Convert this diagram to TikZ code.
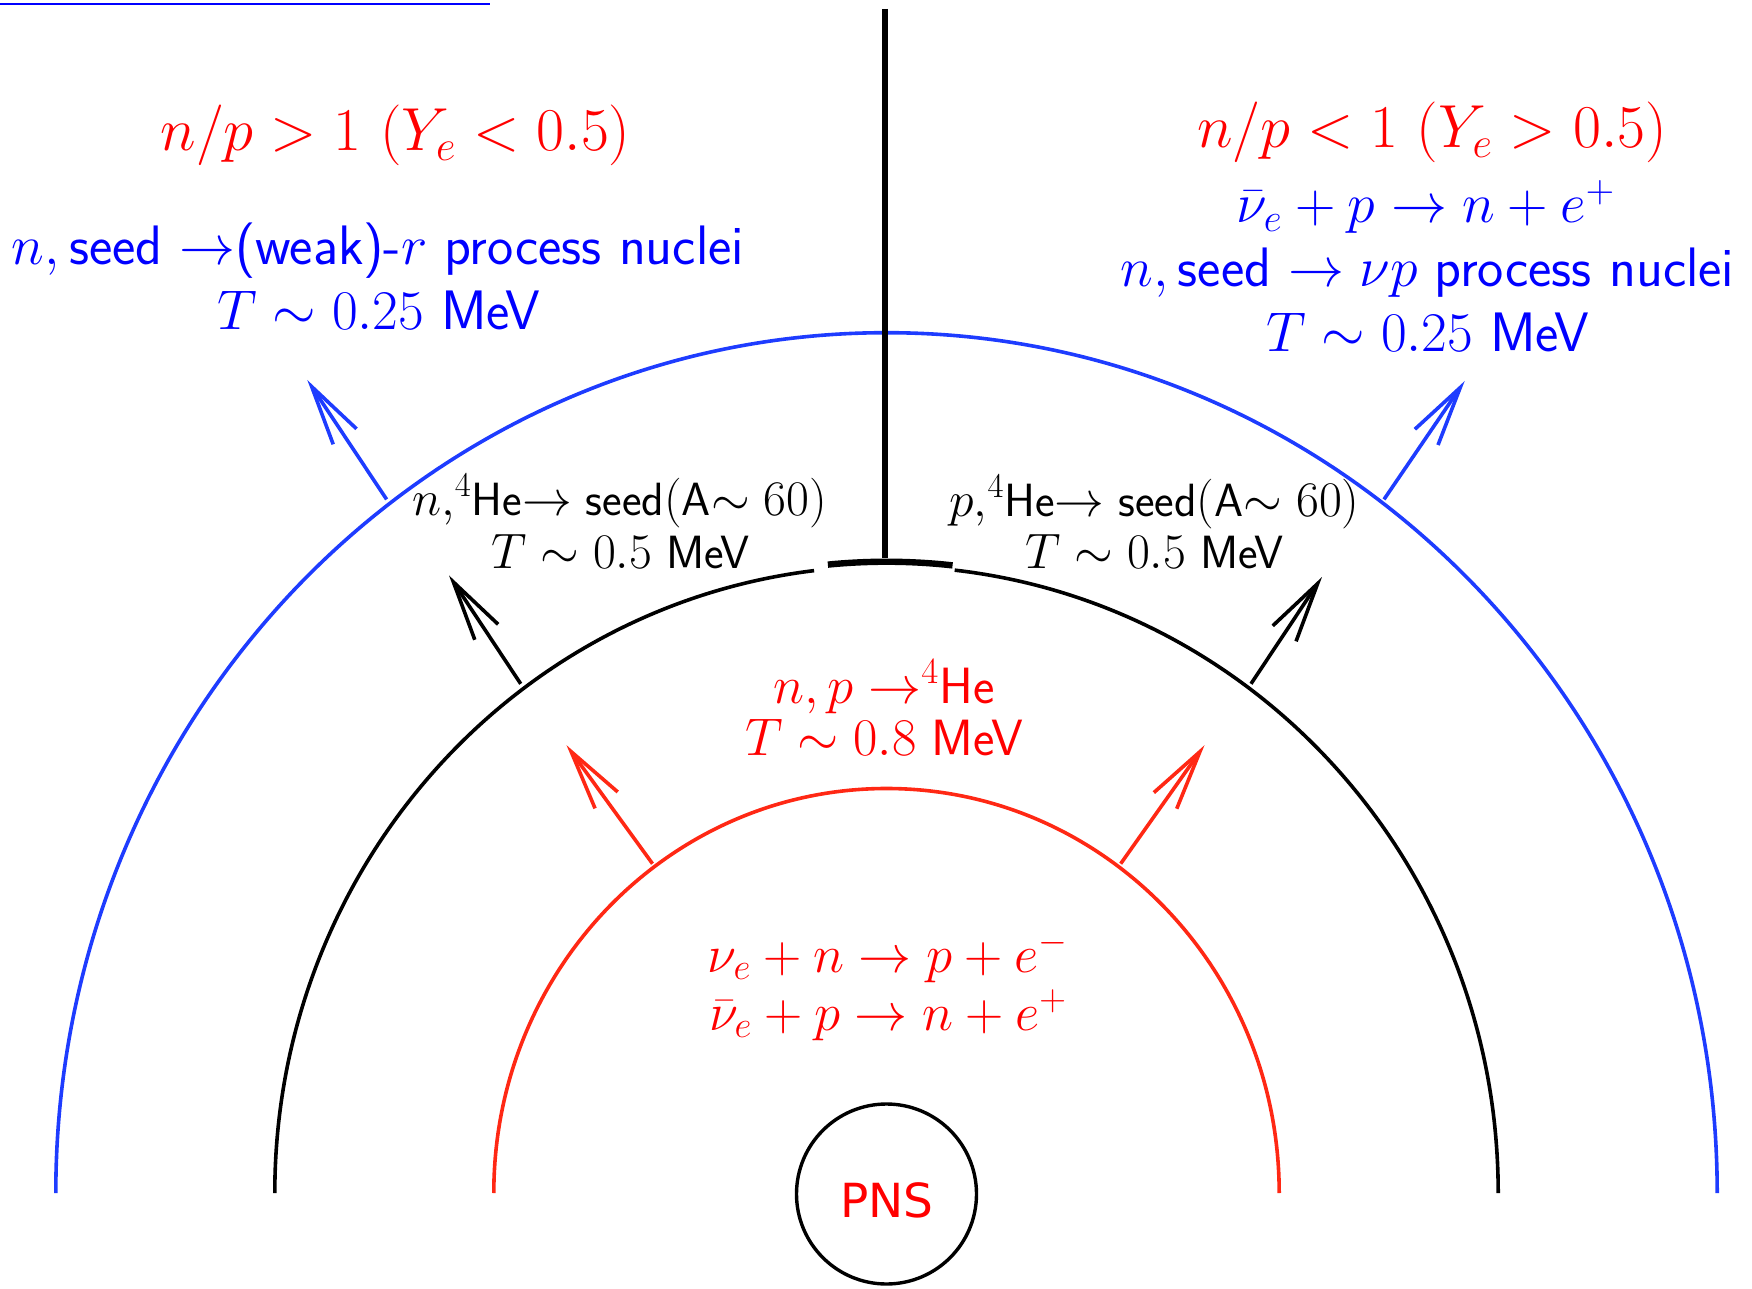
\RequirePackage{fix-cm}
\documentclass[tikz,border=0pt]{standalone}
\usepackage{fontspec}
\newfontfamily\pnsfont{DejaVu Sans}
\usetikzlibrary{arrows.meta}
\DeclareMathSizes{27.8}{28}{19.6}{14}
\DeclareMathSizes{30.4}{30.4}{21.3}{15.2}
\DeclareMathSizes{25.5}{26.5}{18.5}{13.2}
\DeclareMathSizes{23.3}{24.88}{17.4}{12.4}
\definecolor{tred}{RGB}{255,0,0}
\definecolor{tblue}{RGB}{0,0,255}
\definecolor{arcred}{RGB}{255,40,20}
\definecolor{arcblue}{RGB}{30,60,255}
\begin{document}
\begin{tikzpicture}[x=0.5pt,y=-0.5pt,
  arcline/.style={line width=1.8pt},
  outarrow/.style={line width=1.8pt,-{Straight Barb[length=30pt,width=14pt]}},
  hugetxt/.style={anchor=base,inner sep=0pt,font=\fontsize{30.4}{36}\selectfont},
  bigtxt/.style={anchor=base,inner sep=0pt,font=\fontsize{27.8}{33}\selectfont},
  midtxt/.style={anchor=base,inner sep=0pt,font=\fontsize{25.5}{30}\selectfont},
  smalltxt/.style={anchor=base,inner sep=0pt,font=\fontsize{23.3}{28}\selectfont},
  pnstxt/.style={anchor=base,inner sep=0pt,font=\fontsize{23.5}{28}\pnsfont},
]
\useasboundingbox (0,0) rectangle (1752,1289);
\coordinate (C) at (886.5,1193);

% top blue rule
\coordinate (bl1) at (0,4);
\coordinate (bl2) at (490,4);
\draw[tblue,line width=1.2pt] (bl1) -- (bl2);

% arcs
\draw[arcline,arcred] (C) ++(180:392.7 and 404.5) arc[start angle=180,end angle=360,x radius=392.7,y radius=404.5];
\draw[arcline] (C) ++(180:611.7 and 626.8) arc[start angle=180,end angle=263.2,x radius=611.7,y radius=626.8];
\draw[line width=3.2pt] (C) ++(0,-4.5) ++(264.5:611.7 and 626.8) arc[start angle=264.5,end angle=276.2,x radius=611.7,y radius=626.8];
\draw[arcline] (C) ++(276.4:611.7 and 626.8) arc[start angle=276.4,end angle=360,x radius=611.7,y radius=626.8];
\draw[arcline,arcblue] (C) ++(180:830.7 and 860.3) arc[start angle=180,end angle=360,x radius=830.7,y radius=860.3];

% vertical line
\coordinate (vtop) at (885,9);
\coordinate (vbot) at (885,558);
\draw[line width=3.2pt] (vtop) -- (vbot);

% PNS
\node[draw,circle,line width=1.7pt,minimum size=90pt,inner sep=0pt] (pns) at (886.5,1194) {};
\node[pnstxt,tred] (pnslabel) at (887,1217) {PNS};

% arrows
\coordinate (rls) at (652.5,863.7); \coordinate (rle) at (566.5,745.2);
\coordinate (rrs) at (1120.7,863.7); \coordinate (rre) at (1204.5,745.2);
\coordinate (kls) at (520.7,683.8); \coordinate (kle) at (449,575.4);
\coordinate (krs) at (1251,683.8); \coordinate (kre) at (1322,577);
\coordinate (bls) at (386.6,499.4); \coordinate (ble) at (307.3,380);
\coordinate (brs) at (1384,499.4); \coordinate (bre) at (1464.7,381);
\draw[outarrow,arcred] (rls) -- (rle);
\draw[outarrow,arcred] (rrs) -- (rre);
\draw[outarrow] (kls) -- (kle);
\draw[outarrow] (krs) -- (kre);
\draw[outarrow,arcblue] (bls) -- (ble);
\draw[outarrow,arcblue] (brs) -- (bre);

% texts left
\node[hugetxt,tred] (rtl) at (395.5,151) {$n/p > 1\ (Y_e < 0.5)$};
\node[bigtxt,tblue] (btl1) at (378,265) {$n,$\,\textsf{seed} $\rightarrow$\textsf{(weak)-}$r$ \textsf{process nuclei}};
\node[bigtxt,tblue] (btl2) at (379,329) {$T\sim 0.25$ \textsf{MeV}};
% texts right
\node[hugetxt,tred] (rtr) at (1432,148) {$n/p < 1\ (Y_e > 0.5)$};
\node[bigtxt,tblue] (btr1) at (1426,223) {$\bar\nu_e + p \rightarrow n + e^+$};
\node[bigtxt,tblue] (btr2) at (1427.5,287) {$n,$\,\textsf{seed} $\rightarrow \nu p$ \textsf{process nuclei}};
\node[bigtxt,tblue] (btr3) at (1428,351) {$T\sim 0.25$ \textsf{MeV}};
% black texts
\node[smalltxt] (kl1) at (619.5,515) {$n,^4$\textsf{He}$\rightarrow$ \textsf{seed}$($\textsf{A}$\sim 60)$};
\node[smalltxt] (kl2) at (620.5,568) {$T\sim 0.5$ \textsf{MeV}};
\node[smalltxt] (kr1) at (1154.5,516) {$p,^4$\textsf{He}$\rightarrow$ \textsf{seed}$($\textsf{A}$\sim 60)$};
\node[smalltxt] (kr2) at (1154.5,568) {$T\sim 0.5$ \textsf{MeV}};
% red middle
\node[midtxt,tred] (rm1) at (884,703) {$n,p\rightarrow^4$\textsf{He}};
\node[midtxt,tred] (rm2) at (884,755) {$T\sim 0.8$ \textsf{MeV}};
% red bottom
\node[midtxt,tred] (rb1) at (888,972) {$\nu_e + n\rightarrow p + e^-$};
\node[midtxt,tred] (rb2) at (888,1030) {$\bar\nu_e + p \rightarrow n + e^+$};
\end{tikzpicture}
\end{document}
